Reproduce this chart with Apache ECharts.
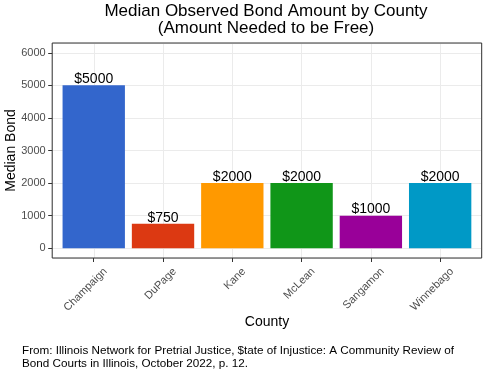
<!DOCTYPE html>
<html>
<head>
<meta charset="utf-8">
<script src="https://cdn.jsdelivr.net/npm/echarts@6/dist/echarts.min.js"></script>
<style>
  html, body { margin: 0; padding: 0; background: #fff; }
  #chartBond { width: 489px; height: 376px; }
</style>
</head>
<body>
<div id="chartBond"></div>
<script>
// 各县保释金中位数
var counties = ['Champaign', 'DuPage', 'Kane', 'McLean', 'Sangamon', 'Winnebago'];
var amounts = [5000, 750, 2000, 2000, 1000, 2000];
var barColors = ['#3366CC', '#DC3912', '#FF9900', '#109618', '#990099', '#0099C6'];

var chartBond = echarts.init(document.getElementById('chartBond'));
var font = 'Liberation Sans, Arial, sans-serif';

var option = {
  animation: false,
  textStyle: { fontFamily: font },
  title: [
    {
      text: 'Median Observed Bond Amount by County\n(Amount Needed to be Free)',
      left: 266,
      top: 3,
      padding: 0,
      textAlign: 'center',
      textStyle: { fontFamily: font, fontSize: 17, fontWeight: 'normal', color: '#000', lineHeight: 17 }
    },
    {
      text: 'From: Illinois Network for Pretrial Justice, $tate of Injustice: A Community Review of\nBond Courts in Illinois, October 2022, p. 12.',
      left: 22,
      top: 344,
      padding: 0,
      textStyle: { fontFamily: font, fontSize: 11.7, fontWeight: 'normal', color: '#000', lineHeight: 13.5 }
    }
  ],
  grid: [
    // 数据区 0-6000
    { left: 59.1, right: 14.2, top: 52.8, bottom: 127.8, containLabel: false, outerBoundsMode: 'none' },
    // 面板边框 (ggplot 扩展)
    {
      left: 52.2, right: 7.3, top: 43, bottom: 118,
      containLabel: false, outerBoundsMode: 'none',
      show: true, borderColor: '#333', borderWidth: 1,
      backgroundColor: 'transparent', z: 10
    }
  ],
  xAxis: [
    {
      type: 'category',
      gridIndex: 0,
      data: counties,
      offset: 9.8,
      name: 'County',
      nameLocation: 'middle',
      nameGap: 57.5,
      nameMoveOverlap: false,
      nameTextStyle: { fontSize: 14, color: '#000' },
      axisLine: { show: false, onZero: false },
      axisTick: { show: true, alignWithLabel: true, length: 4, lineStyle: { color: '#333' } },
      axisLabel: {
        interval: 0,
        rotate: 45,
        fontSize: 11,
        color: '#4D4D4D',
        margin: 0,
        align: 'right',
        verticalAlign: 'top',
        lineHeight: 33
      },
      splitLine: { show: false }
    },
    {
      type: 'value',
      gridIndex: 1,
      min: -0.6,
      max: 5.6,
      axisLine: { show: false, onZero: false },
      axisTick: { show: false },
      axisLabel: { show: false },
      splitLine: { show: true, lineStyle: { color: '#EBEBEB', width: 1 } }
    }
  ],
  yAxis: [
    {
      type: 'value',
      gridIndex: 0,
      min: 0,
      max: 6000,
      interval: 1000,
      offset: 6.9,
      name: 'Median Bond',
      nameLocation: 'middle',
      nameGap: 34,
      nameMoveOverlap: false,
      nameTextStyle: { fontSize: 14, color: '#000' },
      axisLine: { show: false, onZero: false },
      axisTick: { show: true, length: 4, lineStyle: { color: '#333' } },
      axisLabel: {
        fontSize: 11,
        color: '#4D4D4D',
        margin: 6.5,
        formatter: function (v) { return String(v); }
      },
      splitLine: { show: false }
    },
    {
      type: 'value',
      gridIndex: 1,
      min: -300,
      max: 6300,
      axisLine: { show: false, onZero: false },
      axisTick: { show: false },
      axisLabel: { show: false },
      splitLine: { show: true, lineStyle: { color: '#EBEBEB', width: 1 } }
    }
  ],
  series: [
    {
      type: 'bar',
      xAxisIndex: 0,
      yAxisIndex: 0,
      barWidth: '90%',
      data: counties.map(function (c, i) {
        return { value: amounts[i], itemStyle: { color: barColors[i] } };
      }),
      label: {
        show: true,
        position: 'top',
        distance: -1,
        fontSize: 14,
        color: '#000',
        formatter: function (p) { return '$' + p.value; }
      }
    }
  ]
};
chartBond.setOption(option);
</script>
</body>
</html>
